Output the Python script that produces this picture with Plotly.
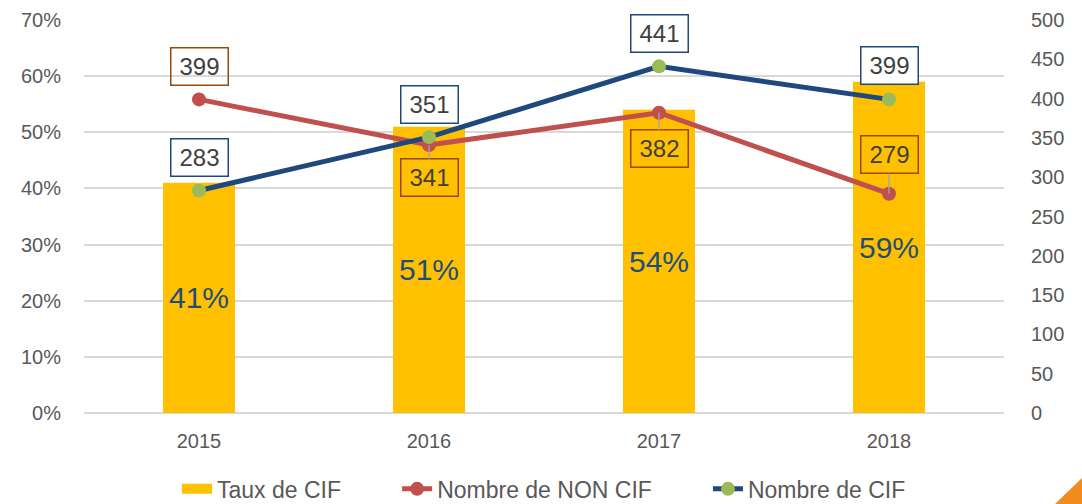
import plotly.graph_objects as go

years = ["2015", "2016", "2017", "2018"]
taux_cif = [0.41, 0.51, 0.54, 0.59]
nombre_non_cif = [399, 341, 382, 279]
nombre_cif = [283, 351, 441, 399]

# label offsets in pixels (style only)
non_cif_offsets = [-33, 33, 36, -39]
non_cif_leader = [False, True, True, True]
cif_offsets = [-33, -33, -33, -34]

FONT = "Liberation Sans, Arial, sans-serif"
GREY = "#595959"
BAR_COLOR = "#FFC000"
PAD = "\u00a0" * 8  # legend spacing

fig = go.Figure()
fig.add_trace(go.Bar(
    x=years, y=taux_cif, name="Taux de CIF",
    marker=dict(color=BAR_COLOR, line=dict(width=0)),
    width=0.313, showlegend=False,
    texttemplate="%{y:.0%}", textposition="inside", insidetextanchor="middle",
    textangle=0,
    textfont=dict(size=30, color="#1F4E79", family=FONT),
    yaxis="y",
))
# legend key for the bars (wide rectangle like the reference)
fig.add_trace(go.Scatter(
    x=[None], y=[None], name="Taux de CIF" + PAD, mode="lines",
    line=dict(color=BAR_COLOR, width=12), legendrank=1, yaxis="y",
))
fig.add_trace(go.Scatter(
    x=years, y=nombre_non_cif, name="Nombre de NON CIF" + PAD,
    mode="lines+markers",
    line=dict(color="#C0504D", width=5),
    marker=dict(color="#C0504D", size=14),
    yaxis="y2", legendrank=2,
))
fig.add_trace(go.Scatter(
    x=years, y=nombre_cif, name="Nombre de CIF",
    mode="lines+markers",
    line=dict(color="#1F497D", width=5),
    marker=dict(color="#9BBB59", size=14),
    yaxis="y2", legendrank=3,
))

annotations = []
for i, (v, off, lead) in enumerate(zip(nombre_non_cif, non_cif_offsets, non_cif_leader)):
    annotations.append(dict(
        x=i, y=v, xref="x", yref="y2", text=str(v),
        showarrow=True, ax=0, ay=off, arrowhead=0, arrowwidth=1.3,
        arrowcolor="#A6A6A6" if lead else "rgba(0,0,0,0)",
        font=dict(size=24, color="#404040", family=FONT),
        bordercolor="#984807", borderwidth=1.5, borderpad=3,
        bgcolor="rgba(0,0,0,0)", width=50, height=30,
    ))
for i, (v, off) in enumerate(zip(nombre_cif, cif_offsets)):
    annotations.append(dict(
        x=i, y=v, xref="x", yref="y2", text=str(v),
        showarrow=True, ax=0, ay=off, arrowhead=0, arrowwidth=1.3,
        arrowcolor="rgba(0,0,0,0)",
        font=dict(size=24, color="#404040", family=FONT),
        bordercolor="#1F497D", borderwidth=1.5, borderpad=3,
        bgcolor="white", width=50, height=30,
    ))

fig.update_layout(
    width=1082, height=504,
    margin=dict(l=84, r=78, t=20, b=91, autoexpand=False),
    paper_bgcolor="white", plot_bgcolor="white",
    font=dict(family=FONT, size=20, color=GREY),
    xaxis=dict(type="category", range=[-0.5, len(years) - 0.5],
               showgrid=False, showline=False, ticks="",
               tickfont=dict(size=20, color=GREY), ticklabelstandoff=14),
    yaxis=dict(range=[0, 0.7], dtick=0.1, tickformat=".0%",
               showgrid=True, gridcolor="#D9D9D9", gridwidth=1.5,
               zeroline=True, zerolinecolor="#D9D9D9", zerolinewidth=1.5,
               showline=False, ticks="", ticklabelstandoff=22,
               tickfont=dict(size=20, color=GREY)),
    yaxis2=dict(range=[0, 500], dtick=50, overlaying="y", side="right",
                showgrid=False, zeroline=False, showline=False, ticks="",
                ticklabelstandoff=26,
                tickfont=dict(size=20, color=GREY)),
    legend=dict(orientation="h", x=0.5, xanchor="center",
                yref="container", y=0.03, yanchor="middle",
                font=dict(size=23, color=GREY),
                traceorder="normal", tracegroupgap=0),
    annotations=annotations,
    showlegend=True,
    shapes=[dict(type="path", xref="paper", yref="paper",
                 path="M 1.0554 -0.2316 L 1.0848 -0.1654 L 1.0848 -0.2316 Z",
                 fillcolor="#F28C1E", line=dict(width=0))],
)

fig.write_html("out.html", config={"displayModeBar": False},
               post_script="document.body.style.margin='0';document.body.style.padding='0';")
